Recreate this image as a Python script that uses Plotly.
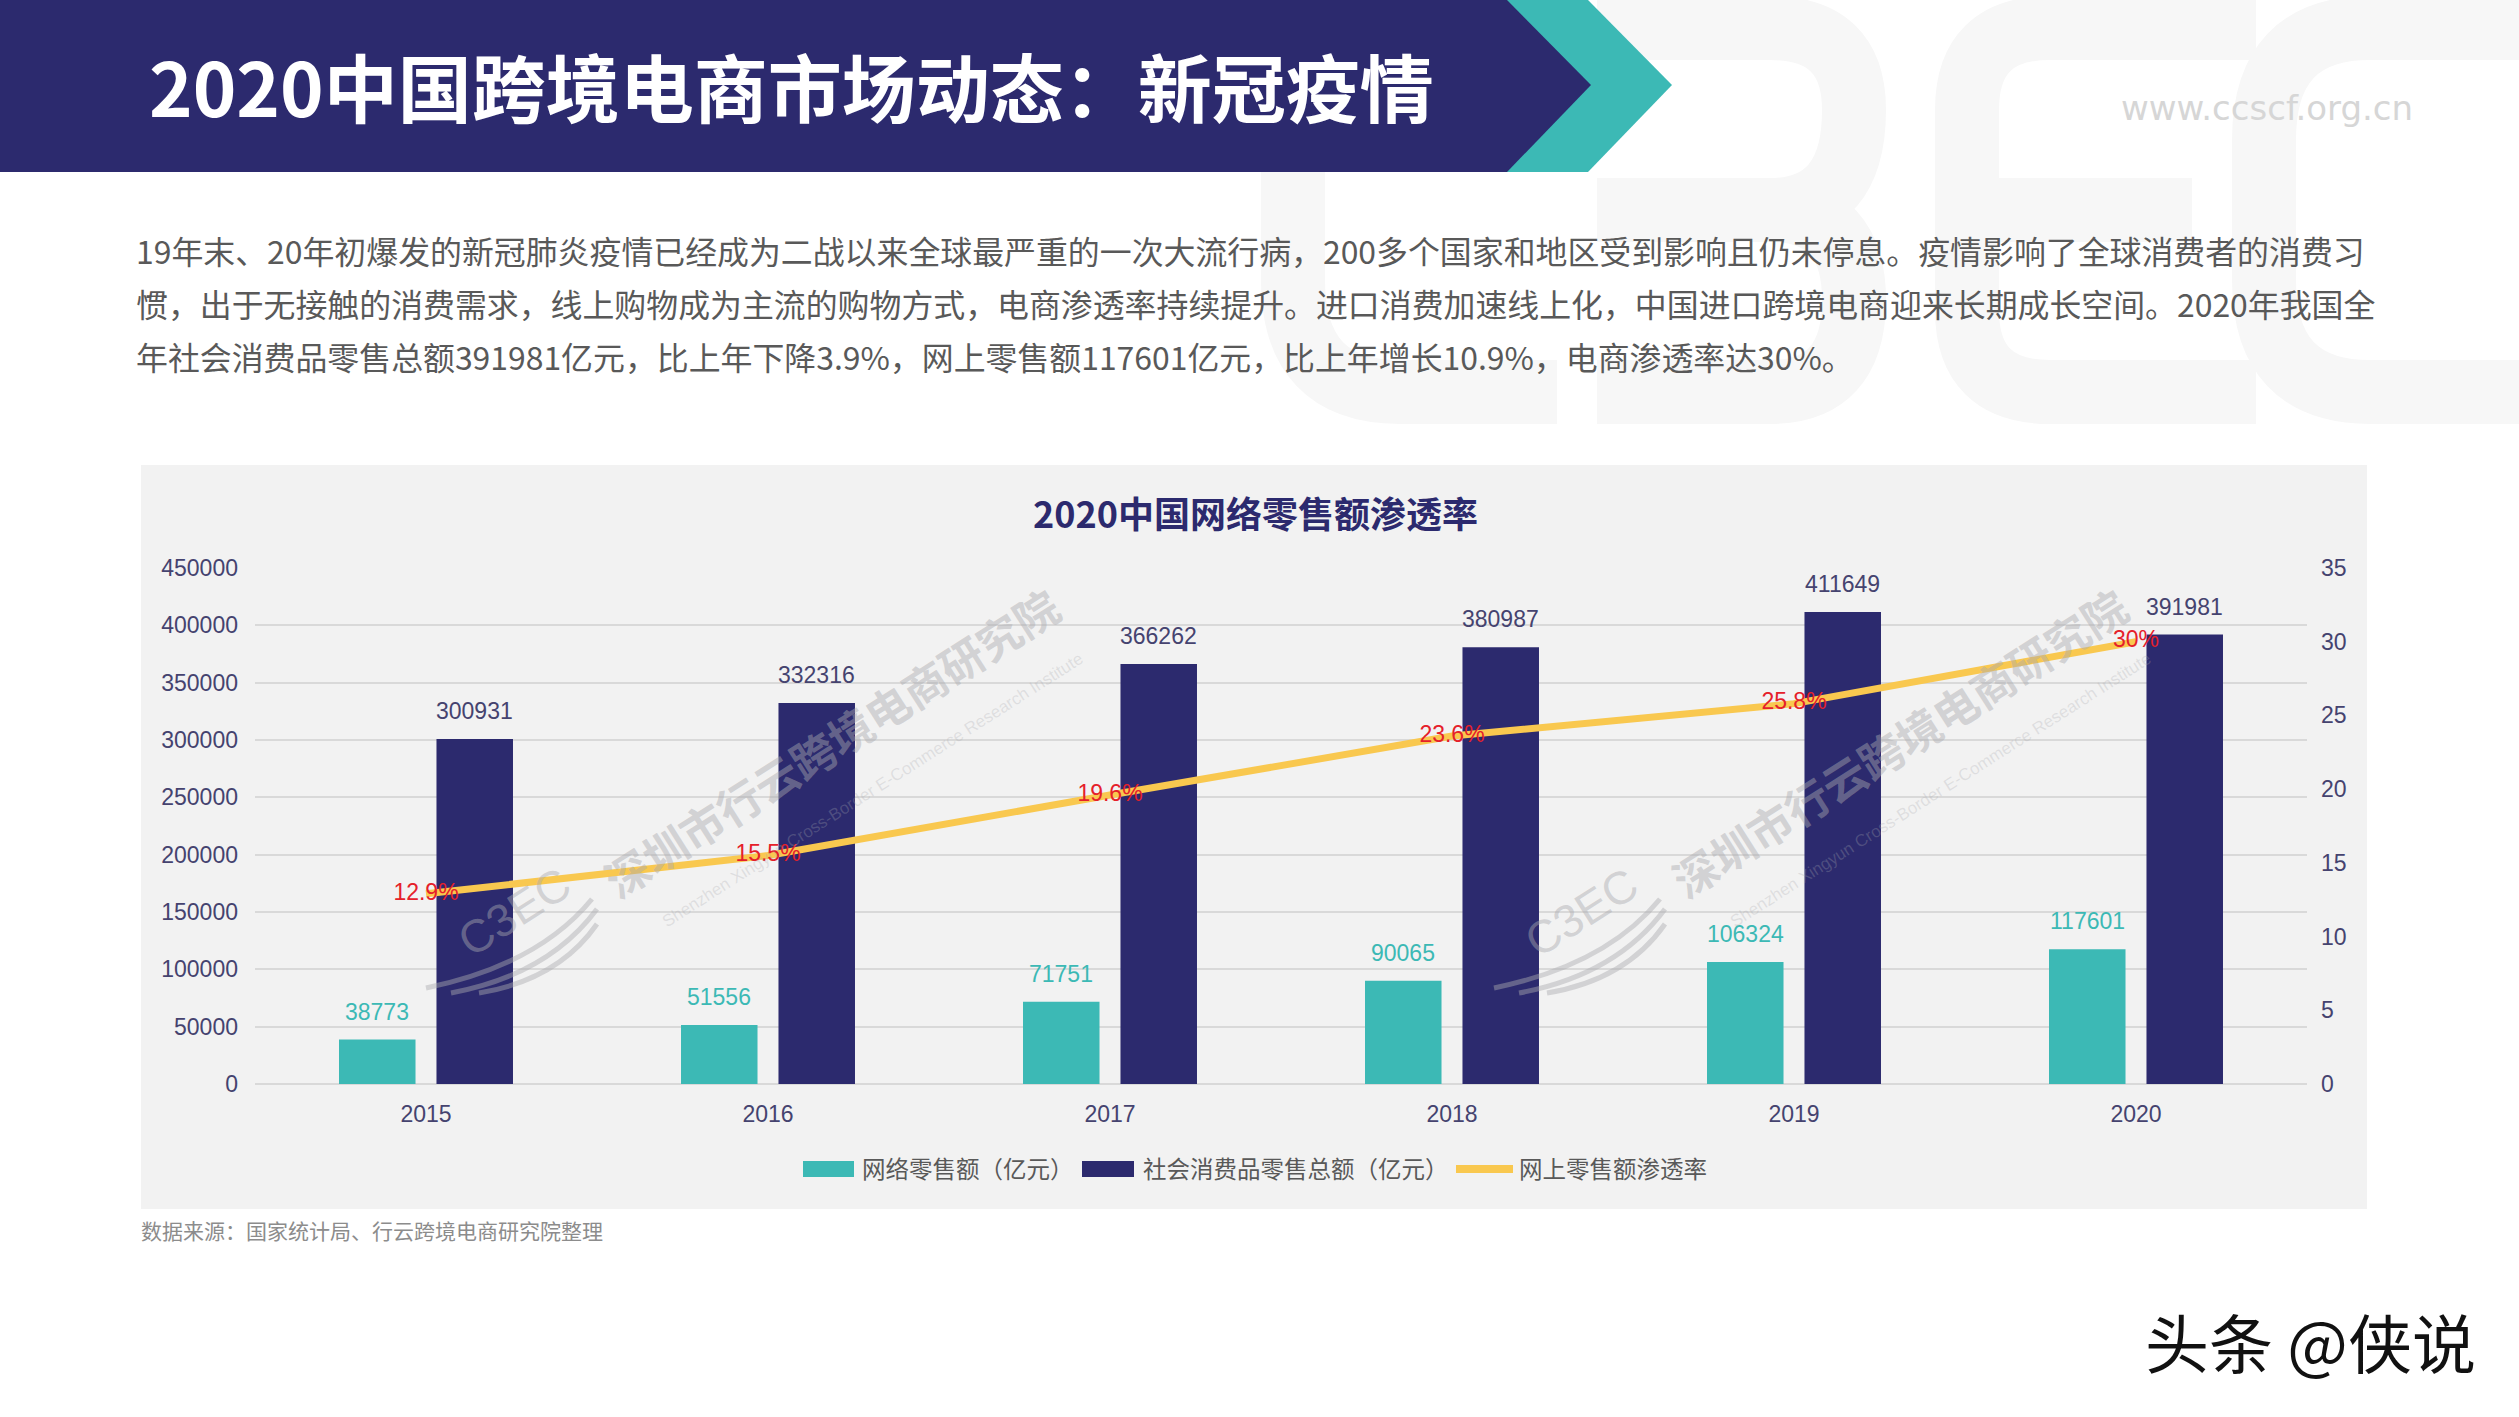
import plotly.graph_objects as go

W = 2519
H = 1417

years = ["2015", "2016", "2017", "2018", "2019", "2020"]
online_retail = [38773, 51556, 71751, 90065, 106324, 117601]
total_retail = [300931, 332316, 366262, 380987, 411649, 391981]
penetration = [12.9, 15.5, 19.6, 23.6, 25.8, 30]
penetration_labels = ["12.9%", "15.5%", "19.6%", "23.6%", "25.8%", "30%"]

left_ticks = [0, 50000, 100000, 150000, 200000, 250000, 300000, 350000, 400000, 450000]
right_ticks = [0, 5, 10, 15, 20, 25, 30, 35]

# full width punctuation written as escapes so it can't get lost
COMMA = "\uff0c"
COLON = "\uff1a"
LP = "\uff08"
RP = "\uff09"

page_title = "2020中国跨境电商市场动态" + COLON + "新冠疫情"
chart_title = "2020中国网络零售额渗透率"
body_lines = [
    "19年末、20年初爆发的新冠肺炎疫情已经成为二战以来全球最严重的一次大流行病" + COMMA + "200多个国家和地区受到影响且仍未停息。疫情影响了全球消费者的消费习",
    "惯" + COMMA + "出于无接触的消费需求" + COMMA + "线上购物成为主流的购物方式" + COMMA + "电商渗透率持续提升。进口消费加速线上化" + COMMA + "中国进口跨境电商迎来长期成长空间。2020年我国全",
    "年社会消费品零售总额391981亿元" + COMMA + "比上年下降3.9%" + COMMA + "网上零售额117601亿元" + COMMA + "比上年增长10.9%" + COMMA + "电商渗透率达30%。",
]
legend_names = ["网络零售额" + LP + "亿元" + RP, "社会消费品零售总额" + LP + "亿元" + RP, "网上零售额渗透率"]
source_text = "数据来源" + COLON + "国家统计局、行云跨境电商研究院整理"

NAVY = "#2C2A6E"
TEAL = "#3CB9B5"
YELLOW = "#F9C84F"
CJK = "Noto Sans CJK SC"
LATIN = "Liberation Sans"
AXIS_TEXT = "#45436F"
BAR_OFFSET = 48.75


def px(x):
    return x / W


def py(y):
    return 1 - y / H


def pt(x, y):
    return f"{px(x)},{py(y)}"


def add_text(fig, x, y, text, size, color, family=CJK, anchor="left", weight=400, angle=0):
    fig.add_annotation(x=px(x), y=py(y), xref="paper", yref="paper", text=text, showarrow=False,
                       xanchor=anchor, yanchor="middle", textangle=angle,
                       font=dict(family=family, size=size, color=color, weight=weight))


def add_poly(fig, points, color, layer="below"):
    d = "M" + " L".join(pt(x, y) for x, y in points) + " Z"
    fig.add_shape(type="path", path=d, xref="paper", yref="paper", fillcolor=color,
                  line=dict(width=0), layer=layer)


def add_stroke(fig, d, color, width, layer="below"):
    fig.add_shape(type="path", path=d, xref="paper", yref="paper",
                  line=dict(color=color, width=width), layer=layer)


def add_box(fig, x0, y0, x1, y1, color):
    fig.add_shape(type="rect", x0=px(x0), x1=px(x1), y0=py(y0), y1=py(y1), xref="paper", yref="paper",
                  fillcolor=color, line=dict(width=0), layer="below")


fig = go.Figure()

fig.add_trace(go.Bar(x=years, y=online_retail, name=legend_names[0], marker=dict(color=TEAL, line=dict(width=0)),
                     offsetgroup="a", yaxis="y"))
fig.add_trace(go.Bar(x=years, y=total_retail, name=legend_names[1], marker=dict(color=NAVY, line=dict(width=0)),
                     offsetgroup="b", yaxis="y"))
fig.add_trace(go.Scatter(x=years, y=penetration, name=legend_names[2], mode="lines+text", yaxis="y2",
                         line=dict(color=YELLOW, width=7), text=penetration_labels,
                         textposition="middle center",
                         textfont=dict(family=LATIN, size=23, color="#E5202A")))

# big pale logo behind the text
PALE = "#F7F7F7"
add_stroke(fig, f"M{pt(1557,28)} L{pt(1400,28)} Q{pt(1293,28)} {pt(1293,140)} L{pt(1293,280)} Q{pt(1293,392)} {pt(1400,392)} L{pt(1557,392)}", PALE, 64)
add_stroke(fig, f"M{pt(1597,28)} L{pt(1770,28)} Q{pt(1854,28)} {pt(1854,110)} Q{pt(1854,210)} {pt(1770,210)} L{pt(1597,210)}", PALE, 64)
add_stroke(fig, f"M{pt(1770,210)} Q{pt(1854,210)} {pt(1854,300)} Q{pt(1854,392)} {pt(1770,392)} L{pt(1597,392)}", PALE, 64)
add_stroke(fig, f"M{pt(2256,28)} L{pt(2050,28)} Q{pt(1967,28)} {pt(1967,110)} L{pt(1967,310)} Q{pt(1967,392)} {pt(2050,392)} L{pt(2256,392)}", PALE, 64)
add_stroke(fig, f"M{pt(1967,210)} L{pt(2192,210)}", PALE, 64)
add_stroke(fig, f"M{pt(2519,28)} L{pt(2370,28)} Q{pt(2264,28)} {pt(2264,140)} L{pt(2264,280)} Q{pt(2264,392)} {pt(2370,392)} L{pt(2519,392)}", PALE, 64)

# header banner
add_poly(fig, [(1507, 0), (1588, 0), (1672, 85), (1588, 172), (1507, 172)], TEAL)
add_poly(fig, [(0, 0), (1507, 0), (1591, 85), (1507, 172), (0, 172)], NAVY)
add_box(fig, 141, 465, 2367, 1209, "#F2F2F2")

add_text(fig, 147, 84, page_title, 74, "white", weight=700)
add_text(fig, 2119, 108, "www.ccscf.org.cn", 34, "#D6D6D6", family="DejaVu Sans")
for line, y in zip(body_lines, [250, 303, 356]):
    add_text(fig, 134, y, line, 31.9, "#595959")
add_text(fig, 1255, 512, chart_title, 36, NAVY, weight=700, anchor="center")
add_text(fig, 139, 1230, source_text, 21, "#8C8C8C")
add_text(fig, 2143, 1340, "头条 @侠说", 64, "#111111")

# legend, the swatches are wider than what plotly's own legend can draw
add_box(fig, 803, 1161, 854, 1177, TEAL)
add_box(fig, 1082, 1161, 1134, 1177, NAVY)
add_box(fig, 1456, 1165, 1513, 1173, YELLOW)
add_text(fig, 860, 1168, legend_names[0], 23.5, "#595959")
add_text(fig, 1141, 1168, legend_names[1], 23.5, "#595959")
add_text(fig, 1517, 1168, legend_names[2], 23.5, "#595959")

# value labels sit well above the bars, category annotations take the index
for i, (a, b) in enumerate(zip(online_retail, total_retail)):
    fig.add_annotation(x=i, y=a, xref="x", yref="y", xshift=-BAR_OFFSET, yshift=28, text=str(a), showarrow=False,
                       font=dict(family=LATIN, size=23, color=TEAL))
    fig.add_annotation(x=i, y=b, xref="x", yref="y", xshift=BAR_OFFSET, yshift=28, text=str(b), showarrow=False,
                       font=dict(family=LATIN, size=23, color=AXIS_TEXT))

# diagonal company watermarks
MARK = "rgba(170,170,175,0.45)"
MARK_SOFT = "rgba(170,170,175,0.28)"
for dx in [0, 1068]:
    add_text(fig, 831 + dx, 742, "深圳市行云跨境电商研究院", 44, MARK, weight=700, anchor="center", angle=-32.5)
    add_text(fig, 872 + dx, 790, "Shenzhen Xingyun Cross-Border E-Commerce Research Institute", 17, MARK_SOFT,
             family=LATIN, anchor="center", angle=-32.5)
    add_text(fig, 514 + dx, 912, "C3EC", 46, MARK, family=LATIN, anchor="center", angle=-32.5)
    add_stroke(fig, f"M{pt(426 + dx,988)} Q{pt(538 + dx,965)} {pt(592 + dx,899)}", MARK, 5, layer="above")
    add_stroke(fig, f"M{pt(451 + dx,993)} Q{pt(548 + dx,975)} {pt(597 + dx,909)}", MARK, 5, layer="above")
    add_stroke(fig, f"M{pt(479 + dx,993)} Q{pt(558 + dx,980)} {pt(597 + dx,924)}", MARK, 5, layer="above")

fig.update_layout(
    width=W,
    height=H,
    margin=dict(l=0, r=0, t=0, b=0, autoexpand=False),
    paper_bgcolor="white",
    plot_bgcolor="rgba(0,0,0,0)",
    showlegend=False,
    barmode="group",
    bargap=0.43,
    bargroupgap=0.215,
    xaxis=dict(domain=[px(255), px(2307)], type="category", range=[-0.5, 5.5], automargin=False,
               showgrid=False, showline=False, ticks="", ticklabelstandoff=14,
               tickfont=dict(family=LATIN, size=23, color=AXIS_TEXT)),
    yaxis=dict(domain=[py(1084), py(568)], range=[0, 450000], tickvals=left_ticks, tickformat="d", automargin=False,
               showgrid=True, gridcolor="#D9D9D9", gridwidth=2, zeroline=True, zerolinecolor="#D9D9D9",
               zerolinewidth=2, showline=False, ticks="", ticklabelstandoff=16,
               tickfont=dict(family=LATIN, size=23, color=AXIS_TEXT)),
    yaxis2=dict(domain=[py(1084), py(568)], range=[0, 35], tickvals=right_ticks, overlaying="y", side="right",
                automargin=False, showgrid=False, zeroline=False, showline=False, ticks="", ticklabelstandoff=13,
                tickfont=dict(family=LATIN, size=23, color=AXIS_TEXT)),
)

fig.write_html("out.html", config={"displayModeBar": False}, post_script="document.body.style.margin='0';")
